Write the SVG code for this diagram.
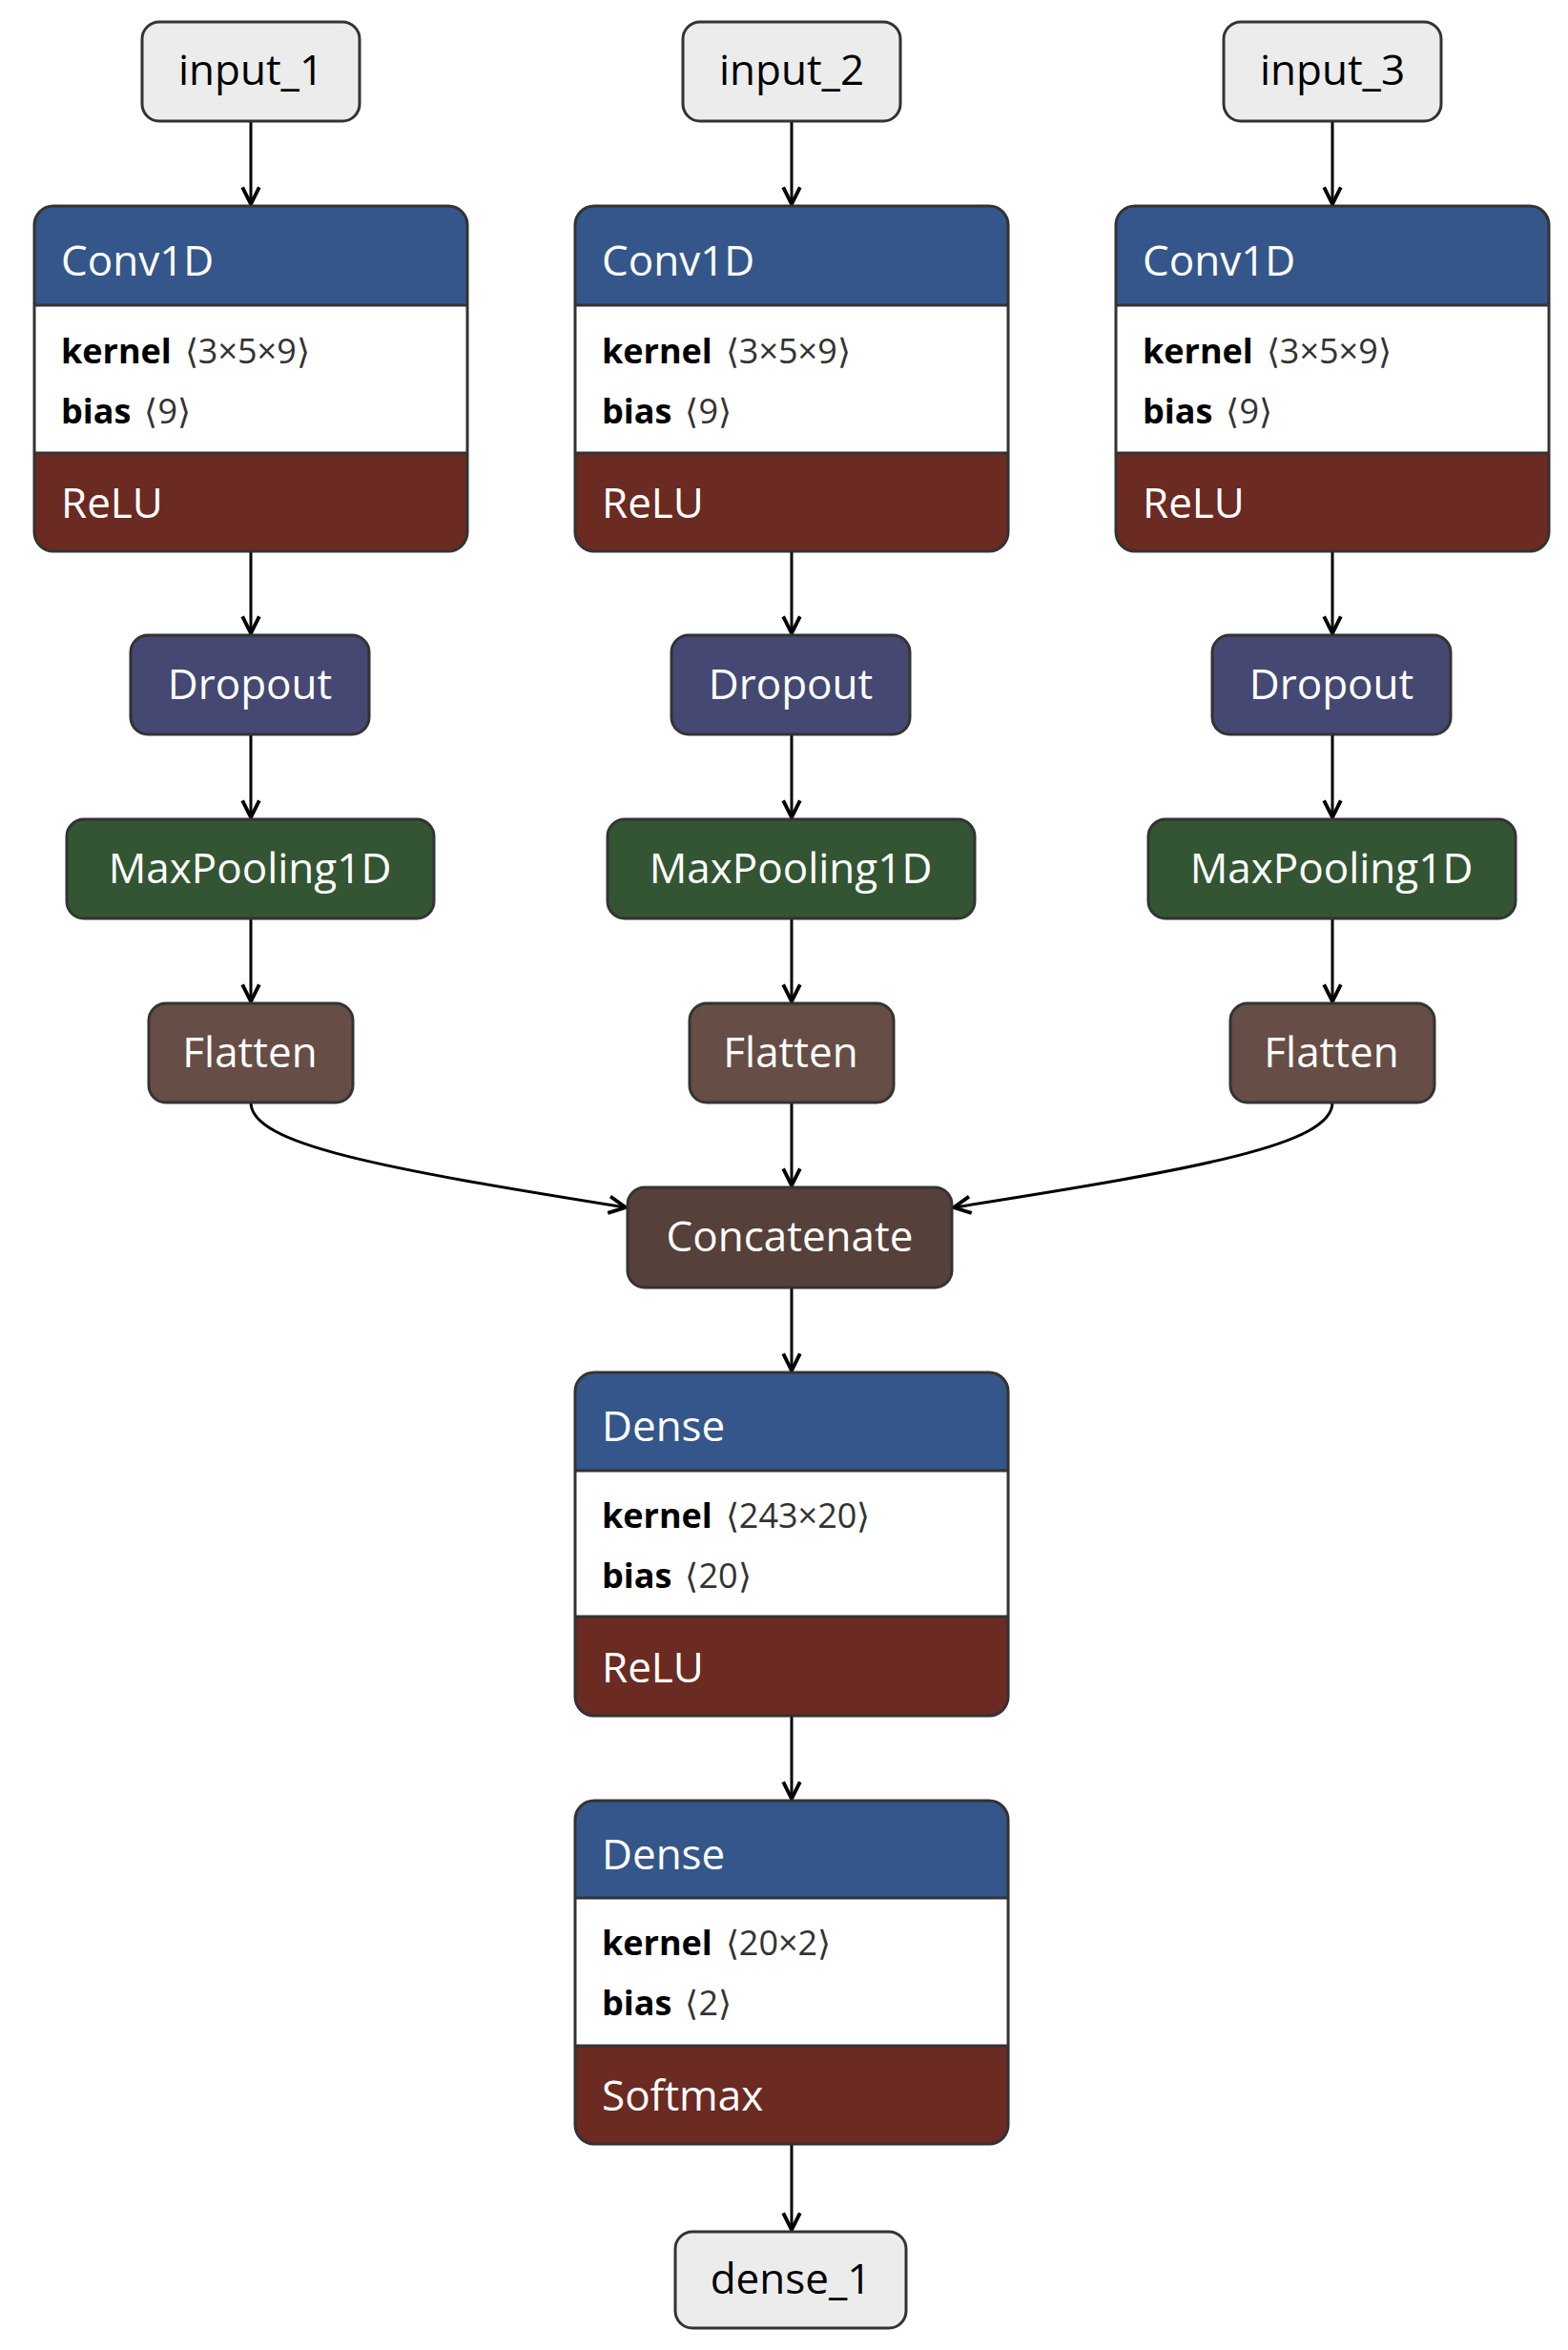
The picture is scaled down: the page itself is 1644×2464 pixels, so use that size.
<svg xmlns="http://www.w3.org/2000/svg" width="1644" height="2464" viewBox="0 0 1644 2464">
<style>
.b{stroke:#333;stroke-width:3}
.t{font-family:"Open Sans","Noto Sans",sans-serif;font-size:44px;fill:#fff}
.tc{text-anchor:middle}
.k{font-family:"Open Sans","Noto Sans",sans-serif;font-size:36px;fill:#000}
.kb{font-weight:bold}
.kv{fill:#333}
.e{fill:none;stroke:#000;stroke-width:3}
</style>
<defs>
<marker id="a" viewBox="0 0 20 20" refX="18" refY="10" markerWidth="22" markerHeight="22" markerUnits="userSpaceOnUse" orient="auto">
<path d="M2,2 L18,10 L2,18" fill="none" stroke="#000" stroke-width="3.5"/>
</marker>
<clipPath id="c1"><rect x="36" y="216" width="454" height="362" rx="20"/></clipPath>
<clipPath id="c2"><rect x="603" y="216" width="454" height="362" rx="20"/></clipPath>
<clipPath id="c3"><rect x="1170" y="216" width="454" height="362" rx="20"/></clipPath>
<clipPath id="d1"><rect x="603" y="1439" width="454" height="360" rx="20"/></clipPath>
<clipPath id="d2"><rect x="603" y="1888" width="454" height="360" rx="20"/></clipPath>
</defs>
<rect width="1644" height="2464" fill="#fff"/>
<g id="edges">
<path class="e" d="M263,127 V214" marker-end="url(#a)"/>
<path class="e" d="M830,127 V214" marker-end="url(#a)"/>
<path class="e" d="M1397,127 V214" marker-end="url(#a)"/>
<path class="e" d="M263,578 V664" marker-end="url(#a)"/>
<path class="e" d="M830,578 V664" marker-end="url(#a)"/>
<path class="e" d="M1397,578 V664" marker-end="url(#a)"/>
<path class="e" d="M263,770 V857" marker-end="url(#a)"/>
<path class="e" d="M830,770 V857" marker-end="url(#a)"/>
<path class="e" d="M1397,770 V857" marker-end="url(#a)"/>
<path class="e" d="M263,963 V1050" marker-end="url(#a)"/>
<path class="e" d="M830,963 V1050" marker-end="url(#a)"/>
<path class="e" d="M1397,963 V1050" marker-end="url(#a)"/>
<path class="e" d="M263,1156 C263,1200 400,1225 656,1266" marker-end="url(#a)"/>
<path class="e" d="M830,1156 V1243" marker-end="url(#a)"/>
<path class="e" d="M1397,1156 C1397,1200 1260,1225 1000,1266" marker-end="url(#a)"/>
<path class="e" d="M830,1350 V1437" marker-end="url(#a)"/>
<path class="e" d="M830,1799 V1886" marker-end="url(#a)"/>
<path class="e" d="M830,2248 V2338" marker-end="url(#a)"/>
</g>
<g id="input_1"><rect class="b" x="149" y="23" width="228" height="104" rx="18" fill="#ececec"/><text class="k tc" x="263" y="89" style="font-size:44px">input_1</text></g>
<g id="input_2"><rect class="b" x="716" y="23" width="228" height="104" rx="18" fill="#ececec"/><text class="k tc" x="830" y="89" style="font-size:44px">input_2</text></g>
<g id="input_3"><rect class="b" x="1283" y="23" width="228" height="104" rx="18" fill="#ececec"/><text class="k tc" x="1397" y="89" style="font-size:44px">input_3</text></g>
<g id="conv1"><g clip-path="url(#c1)"><rect x="36" y="216" width="454" height="104" fill="#34568a"/><rect x="36" y="320" width="454" height="155" fill="#fff"/><rect x="36" y="475" width="454" height="103" fill="#6b2a22"/></g><path class="b" d="M36,320H490M36,475H490"/><rect class="b" x="36" y="216" width="454" height="362" rx="20" fill="none"/>
<text class="t" x="64" y="289">Conv1D</text><text class="k" x="64" y="381"><tspan class="kb">kernel</tspan><tspan class="kv" dx="14">⟨3×5×9⟩</tspan></text><text class="k" x="64" y="444"><tspan class="kb">bias</tspan><tspan class="kv" dx="14">⟨9⟩</tspan></text><text class="t" x="64" y="543">ReLU</text></g>
<g id="conv2"><g clip-path="url(#c2)"><rect x="603" y="216" width="454" height="104" fill="#34568a"/><rect x="603" y="320" width="454" height="155" fill="#fff"/><rect x="603" y="475" width="454" height="103" fill="#6b2a22"/></g><path class="b" d="M603,320H1057M603,475H1057"/><rect class="b" x="603" y="216" width="454" height="362" rx="20" fill="none"/>
<text class="t" x="631" y="289">Conv1D</text><text class="k" x="631" y="381"><tspan class="kb">kernel</tspan><tspan class="kv" dx="14">⟨3×5×9⟩</tspan></text><text class="k" x="631" y="444"><tspan class="kb">bias</tspan><tspan class="kv" dx="14">⟨9⟩</tspan></text><text class="t" x="631" y="543">ReLU</text></g>
<g id="conv3"><g clip-path="url(#c3)"><rect x="1170" y="216" width="454" height="104" fill="#34568a"/><rect x="1170" y="320" width="454" height="155" fill="#fff"/><rect x="1170" y="475" width="454" height="103" fill="#6b2a22"/></g><path class="b" d="M1170,320H1624M1170,475H1624"/><rect class="b" x="1170" y="216" width="454" height="362" rx="20" fill="none"/>
<text class="t" x="1198" y="289">Conv1D</text><text class="k" x="1198" y="381"><tspan class="kb">kernel</tspan><tspan class="kv" dx="14">⟨3×5×9⟩</tspan></text><text class="k" x="1198" y="444"><tspan class="kb">bias</tspan><tspan class="kv" dx="14">⟨9⟩</tspan></text><text class="t" x="1198" y="543">ReLU</text></g>
<g id="dropout1"><rect class="b" x="137" y="666" width="250" height="104" rx="18" fill="#444872"/><text class="t tc" x="262" y="733">Dropout</text></g>
<g id="dropout2"><rect class="b" x="704" y="666" width="250" height="104" rx="18" fill="#444872"/><text class="t tc" x="829" y="733">Dropout</text></g>
<g id="dropout3"><rect class="b" x="1271" y="666" width="250" height="104" rx="18" fill="#444872"/><text class="t tc" x="1396" y="733">Dropout</text></g>
<g id="pool1"><rect class="b" x="70" y="859" width="385" height="104" rx="18" fill="#335533"/><text class="t tc" x="262" y="926">MaxPooling1D</text></g>
<g id="pool2"><rect class="b" x="637" y="859" width="385" height="104" rx="18" fill="#335533"/><text class="t tc" x="829" y="926">MaxPooling1D</text></g>
<g id="pool3"><rect class="b" x="1204" y="859" width="385" height="104" rx="18" fill="#335533"/><text class="t tc" x="1396" y="926">MaxPooling1D</text></g>
<g id="flatten1"><rect class="b" x="156" y="1052" width="214" height="104" rx="18" fill="#664d45"/><text class="t tc" x="262" y="1119">Flatten</text></g>
<g id="flatten2"><rect class="b" x="723" y="1052" width="214" height="104" rx="18" fill="#664d45"/><text class="t tc" x="829" y="1119">Flatten</text></g>
<g id="flatten3"><rect class="b" x="1290" y="1052" width="214" height="104" rx="18" fill="#664d45"/><text class="t tc" x="1396" y="1119">Flatten</text></g>
<g id="concatenate"><rect class="b" x="658" y="1245" width="340" height="105" rx="18" fill="#56403a"/><text class="t tc" x="828" y="1312">Concatenate</text></g>
<g id="dense_a"><g clip-path="url(#d1)"><rect x="603" y="1439" width="454" height="103" fill="#34568a"/><rect x="603" y="1542" width="454" height="153" fill="#fff"/><rect x="603" y="1695" width="454" height="104" fill="#6b2a22"/></g><path class="b" d="M603,1542H1057M603,1695H1057"/><rect class="b" x="603" y="1439" width="454" height="360" rx="20" fill="none"/>
<text class="t" x="631" y="1511">Dense</text><text class="k" x="631" y="1602"><tspan class="kb">kernel</tspan><tspan class="kv" dx="14">⟨243×20⟩</tspan></text><text class="k" x="631" y="1665"><tspan class="kb">bias</tspan><tspan class="kv" dx="14">⟨20⟩</tspan></text><text class="t" x="631" y="1764">ReLU</text></g>
<g id="dense_b"><g clip-path="url(#d2)"><rect x="603" y="1888" width="454" height="102" fill="#34568a"/><rect x="603" y="1990" width="454" height="155" fill="#fff"/><rect x="603" y="2145" width="454" height="103" fill="#6b2a22"/></g><path class="b" d="M603,1990H1057M603,2145H1057"/><rect class="b" x="603" y="1888" width="454" height="360" rx="20" fill="none"/>
<text class="t" x="631" y="1960">Dense</text><text class="k" x="631" y="2050"><tspan class="kb">kernel</tspan><tspan class="kv" dx="14">⟨20×2⟩</tspan></text><text class="k" x="631" y="2113"><tspan class="kb">bias</tspan><tspan class="kv" dx="14">⟨2⟩</tspan></text><text class="t" x="631" y="2213">Softmax</text></g>
<g id="dense_1"><rect class="b" x="708" y="2340" width="242" height="101" rx="18" fill="#ececec"/><text class="k tc" x="829" y="2405" style="font-size:44px">dense_1</text></g>
</svg>
